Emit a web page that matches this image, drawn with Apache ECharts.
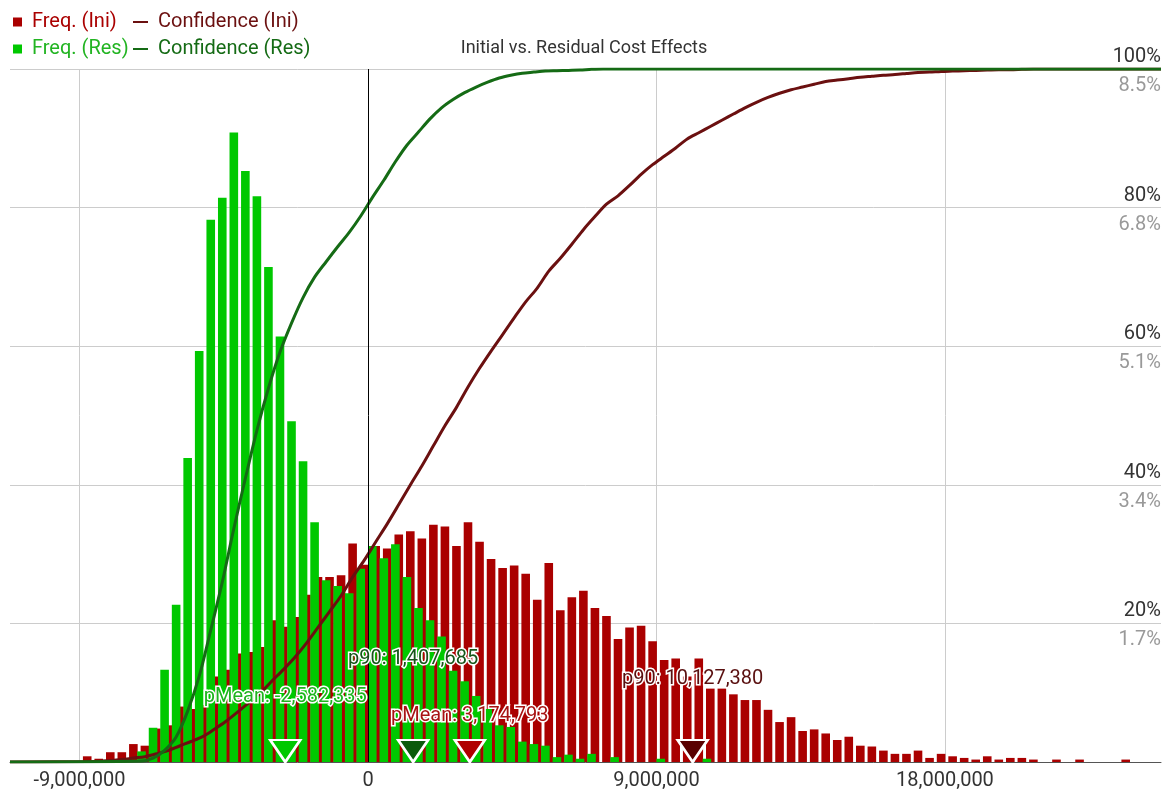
<!DOCTYPE html>
<html>
<head>
<meta charset="utf-8">
<script src="https://cdn.jsdelivr.net/npm/echarts@6/dist/echarts.min.js"></script>
<style>html,body{margin:0;padding:0;background:#fff}#c{width:1168px;height:796px}</style>
</head>
<body>
<div id="c"></div>
<script>
// ---- data ----
const binWidth = 360000;
const iniFirstBin = -8761000;   // centre of first "Initial" bin
const resFirstBin = -7067000;   // centre of first "Residual" bin

const freqIni = [0.07,0.04,0.12,0.12,0.22,0.20,0.41,0.45,0.68,0.65,0.70,
  1.05,1.13,1.33,1.35,1.41,1.74,1.66,1.78,2.05,2.27,
  2.27,2.29,2.68,2.42,2.65,2.62,2.79,2.83,2.74,2.91,
  2.89,2.65,2.94,2.70,2.49,2.38,2.41,2.31,1.99,2.44,
  1.86,2.02,2.10,1.89,1.79,1.51,1.65,1.67,1.48,1.25,
  1.27,1.05,1.27,0.90,0.90,0.83,0.76,0.76,0.64,0.49,
  0.55,0.38,0.40,0.35,0.27,0.31,0.20,0.19,0.14,0.10,
  0.10,0.14,0.05,0.10,0.07,0.05,0.03,0.07,0.03,0.05,
  0.05,0.03,0,0.03,0,0.03,0,0,0,0.03];

const confIni = [0.07,0.11,0.23,0.35,0.57,0.77,1.18,1.63,2.31,2.96,3.66,
  4.71,5.84,7.17,8.52,9.93,11.67,13.33,15.11,17.16,19.43,
  21.70,23.99,26.67,29.09,31.74,34.36,37.15,39.98,42.72,45.63,
  48.52,51.17,54.11,56.81,59.30,61.68,64.09,66.40,68.39,70.83,
  72.69,74.71,76.81,78.70,80.49,81.7,83.2,84.8,86.2,87.4,
  88.6,89.9,90.8,91.7,92.6,93.5,94.4,95.2,95.9,96.5,
  97.0,97.4,97.8,98.2,98.4,98.6,98.8,98.95,99.1,99.2,
  99.35,99.5,99.55,99.65,99.7,99.75,99.8,99.85,99.9,99.9,
  99.95,100,100,100,100,100,100,100,100,100];

const freqRes = [0.13,0.42,1.13,1.93,3.73,5.04,6.65,6.92,7.72,7.25,
  6.94,6.07,5.22,4.18,3.69,2.94,2.23,2.16,2.07,2.37,
  2.65,2.50,2.67,2.27,1.89,1.74,1.54,1.12,0.99,0.81,
  0.65,0.45,0.43,0.25,0.22,0.20,0.06,0.09,0.04,0.10,
  0,0.06,0,0,0,0.04,0,0,0,0.04];

const confRes = [0.13,0.55,1.68,3.61,7.34,12.38,19.03,25.95,33.67,40.92,
  47.86,53.93,59.15,63.33,67.02,69.96,72.19,74.35,76.42,78.79,
  81.44,83.94,86.61,89.0,90.9,92.8,94.4,95.6,96.6,97.4,
  98.1,98.7,99.1,99.4,99.55,99.7,99.75,99.8,99.85,99.95,
  100,100,100,100,100,100,100,100,100,100];

const markerNames  = ['pMean', 'p90', 'pMean', 'p90'];
const markerValues = [-2582335, 1407685, 3174793, 10127380];

const xTickValues = [-9000000, 0, 9000000, 18000000];
const xMin = -11170000, xMax = 24740000;
const freqMax = 8.5, freqStep = 1.7;
const confMax = 100, confStep = 20;

// ---- styling / layout ----
const FONT = 'Roboto, "Noto Sans", sans-serif';
const C_INI_BAR = '#aa0000', C_INI_LINE = '#6b1010';
const C_RES_BAR = '#00c800', C_RES_LINE = '#156b15';
const markerColors = ['#00c800', '#0c5a0c', '#b00000', '#5a0000'];
const markerTextColors = ['#1fb41f', '#17561a', '#a81414', '#5a1010'];
const labelHeights = [0.80, 1.26, 0.57, 1.02]; // label centres, in frequency-axis units

const iniBars = freqIni.map((v, i) => [iniFirstBin + i * binWidth, v]);
const resBars = freqRes.map((v, i) => [resFirstBin + i * binWidth, v]);
const iniConf = [[xMin, 0]].concat(confIni.map((v, i) => [iniFirstBin + i * binWidth, v]), [[xMax, 100]]);
const resConf = [[xMin, 0]].concat(confRes.map((v, i) => [resFirstBin + i * binWidth, v]), [[xMax, 100]]);

function barRenderer(w) {
  return function (params, api) {
    const x = api.value(0), y = api.value(1);
    const top = api.coord([x, y]);
    const base = api.coord([x, 0]);
    return {
      type: 'rect',
      shape: { x: top[0] - w / 2, y: top[1], width: w, height: base[1] - top[1] },
      style: { fill: api.visual('color') }
    };
  };
}

function legendItem(name, left, top, color, isLine) {
  return {
    data: [name], left: left, top: top, padding: 0, itemGap: 0,
    icon: 'rect', itemWidth: isLine ? 15 : 9, itemHeight: isLine ? 2 : 9,
    selectedMode: false,
    formatter: isLine ? ' {name}' : ' {name}',
    textStyle: { color: color, fontSize: 20, fontFamily: FONT }
  };
}

const chart = echarts.init(document.getElementById('c'), null, { renderer: 'canvas' });
chart.setOption({
  animation: false,
  backgroundColor: '#fff',
  textStyle: { fontFamily: FONT },
  title: {
    text: 'Initial vs. Residual Cost Effects', left: 'center', top: 39, padding: 0,
    textStyle: { fontSize: 18, fontWeight: 'normal', color: '#333', fontFamily: FONT }
  },
  legend: [
    legendItem('Freq. (Ini)', 13, 12, C_INI_BAR, false),
    legendItem('Confidence (Ini)', 133, 12, C_INI_LINE, true),
    legendItem('Freq. (Res)', 13, 39, '#22b422', false),
    legendItem('Confidence (Res)', 133, 39, C_RES_LINE, true)
  ],
  grid: { left: 10, right: 7, top: 69, bottom: 34 },
  xAxis: {
    type: 'value', min: xMin, max: xMax,
    axisLine: { show: true, onZero: false, lineStyle: { color: '#555', width: 1 } },
    axisTick: { show: false, customValues: xTickValues },
    axisLabel: {
      customValues: xTickValues, color: '#333', fontSize: 20, margin: 9,
      formatter: v => Number(v).toLocaleString('en-US')
    },
    splitLine: { show: false }
  },
  yAxis: [
    {
      type: 'value', position: 'right', min: 0, max: freqMax, interval: freqStep,
      axisLine: { show: false }, axisTick: { show: false }, splitLine: { show: false },
      axisLabel: {
        inside: true, margin: 0, showMinLabel: false, color: '#999', fontSize: 20,
        verticalAlign: 'top', padding: [7, 0, 0, 0],
        formatter: v => v.toFixed(1) + '%'
      }
    },
    {
      type: 'value', position: 'right', min: 0, max: confMax, interval: confStep,
      axisLine: { show: false }, axisTick: { show: false },
      splitLine: { show: true, lineStyle: { color: '#ccc', width: 1 } },
      axisLabel: {
        inside: true, margin: 0, showMinLabel: false, color: '#333', fontSize: 20,
        verticalAlign: 'bottom', padding: [0, 0, 2, 0],
        formatter: v => Math.round(v) + '%'
      }
    }
  ],
  series: [
    {
      name: 'Freq. (Ini)', type: 'custom', xAxisIndex: 0, yAxisIndex: 0,
      renderItem: barRenderer(8.6), itemStyle: { color: C_INI_BAR },
      encode: { x: 0, y: 1 }, data: iniBars, z: 2,
      markLine: {
        silent: true, symbol: 'none', z: 1, animation: false,
        label: { show: false },
        lineStyle: { color: '#ccc', width: 1, type: 'solid' },
        data: xTickValues.filter(v => v !== 0).map(v => ({ xAxis: v }))
      }
    },
    {
      name: 'Freq. (Res)', type: 'custom', xAxisIndex: 0, yAxisIndex: 0,
      renderItem: barRenderer(8.6), itemStyle: { color: C_RES_BAR },
      encode: { x: 0, y: 1 }, data: resBars, z: 3
    },
    {
      name: 'Confidence (Ini)', type: 'line', yAxisIndex: 1, data: iniConf,
      showSymbol: false, smooth: 0.3, z: 4,
      lineStyle: { color: C_INI_LINE, width: 3 }, itemStyle: { color: C_INI_LINE }
    },
    {
      name: 'Confidence (Res)', type: 'line', yAxisIndex: 1, data: resConf,
      showSymbol: false, smooth: 0.3, z: 5,
      lineStyle: { color: C_RES_LINE, width: 3 }, itemStyle: { color: C_RES_LINE },
      markLine: {
        silent: true, symbol: 'none', z: 6, animation: false,
        label: { show: false },
        lineStyle: { color: '#000', width: 1, type: 'solid' },
        data: [{ xAxis: 0 }]
      }
    },
    {
      name: 'markers', type: 'scatter', yAxisIndex: 0, z: 7, silent: true,
      symbol: 'triangle', symbolRotate: 180, symbolSize: [30, 22], symbolOffset: [0, -11],
      data: markerValues.map((v, i) => ({
        value: [v, 0],
        itemStyle: { color: markerColors[i], opacity: 1, borderColor: '#fff', borderWidth: 2.5 }
      }))
    },
    {
      name: 'marker labels', type: 'scatter', yAxisIndex: 0, z: 8, silent: true,
      symbolSize: 1, itemStyle: { color: 'rgba(0,0,0,0)', opacity: 1 },
      data: markerValues.map((v, i) => ({
        value: [v, labelHeights[i]],
        label: {
          show: true, position: 'inside', fontSize: 20, fontFamily: FONT, opacity: 1,
          color: markerTextColors[i], textBorderColor: '#fff', textBorderWidth: 3,
          formatter: markerNames[i] + ': ' + v.toLocaleString('en-US')
        }
      }))
    }
  ]
});
</script>
</body>
</html>
